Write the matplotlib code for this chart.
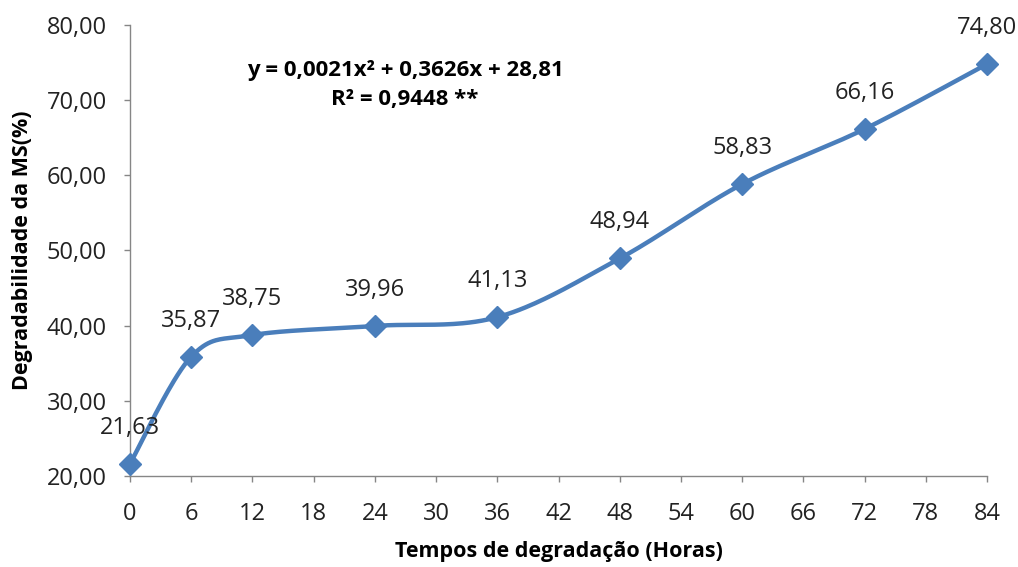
import numpy as np
import matplotlib.pyplot as plt

plt.rcParams['font.family'] = ['Open Sans', 'DejaVu Sans']

horas = [0, 6, 12, 24, 36, 48, 60, 72, 84]
degradabilidade = [21.63, 35.87, 38.75, 39.96, 41.13, 48.94, 58.83, 66.16, 74.80]
rotulos = ['21,63', '35,87', '38,75', '39,96', '41,13', '48,94', '58,83', '66,16', '74,80']
xticks = list(range(0, 85, 6))
yticks = [20, 30, 40, 50, 60, 70, 80]


def smooth(x, y, n=40):
    # excel-like smoothed line (bezier through points)
    x = np.asarray(x, float)
    y = np.asarray(y, float)
    px, py = [], []
    for i in range(len(x) - 1):
        x0, y0 = (x[i - 1], y[i - 1]) if i > 0 else (x[i], y[i])
        x3, y3 = (x[i + 2], y[i + 2]) if i + 2 < len(x) else (x[i + 1], y[i + 1])
        c1x = x[i] + (x[i + 1] - x0) / 6
        c1y = y[i] + (y[i + 1] - y0) / 6
        c2x = x[i + 1] - (x3 - x[i]) / 6
        c2y = y[i + 1] - (y3 - y[i]) / 6
        t = np.linspace(0, 1, n)
        bx = (1 - t)**3 * x[i] + 3 * (1 - t)**2 * t * c1x + 3 * (1 - t) * t**2 * c2x + t**3 * x[i + 1]
        by = (1 - t)**3 * y[i] + 3 * (1 - t)**2 * t * c1y + 3 * (1 - t) * t**2 * c2y + t**3 * y[i + 1]
        px.extend(bx)
        py.extend(by)
    return px, py


fig = plt.figure(figsize=(10.18, 5.67), dpi=100)
ax = fig.add_axes([0.1277, 0.1605, 0.8419, 0.7955])

sx, sy = smooth(horas, degradabilidade)
ax.plot(sx, sy, '-', color='#4A7EBB', linewidth=3.2, solid_capstyle='round', clip_on=False, zorder=3)
ax.plot(horas, degradabilidade, 'D', color='#4A7EBB', markersize=11, clip_on=False, zorder=4)

for x, y, s in zip(horas, degradabilidade, rotulos):
    ax.annotate(s, (x, y), xytext=(0, 26), textcoords='offset points',
                ha='center', va='center', fontsize=17, color='#222222')

ax.set_xlim(0, 84)
ax.set_ylim(20, 80)
ax.set_xticks(xticks)
ax.set_xticklabels([str(v) for v in xticks])
ax.set_yticks(yticks)
ax.set_yticklabels(['%d,00' % v for v in yticks])
ax.tick_params(direction='out', length=4.5, width=1, color='#868686', labelsize=17,
               labelcolor='#222222')
ax.tick_params(axis='y', pad=12)
ax.tick_params(axis='x', pad=14)

for side in ['top', 'right']:
    ax.spines[side].set_visible(False)
for side in ['left', 'bottom']:
    ax.spines[side].set_color('#868686')
    ax.spines[side].set_linewidth(1)

ax.set_xlabel('Tempos de degradação (Horas)', fontsize=15.5, fontweight='bold', labelpad=11)
ax.set_ylabel('Degradabilidade da MS(%)', fontsize=15.5, fontweight='bold', labelpad=10)

ax.text(0.321, 0.898, 'y = 0,0021x² + 0,3626x + 28,81', transform=ax.transAxes,
        ha='center', va='center', fontsize=16, fontweight='bold')
ax.text(0.321, 0.834, 'R² = 0,9448 **', transform=ax.transAxes,
        ha='center', va='center', fontsize=16, fontweight='bold')

fig.savefig('out.png', dpi=100)
